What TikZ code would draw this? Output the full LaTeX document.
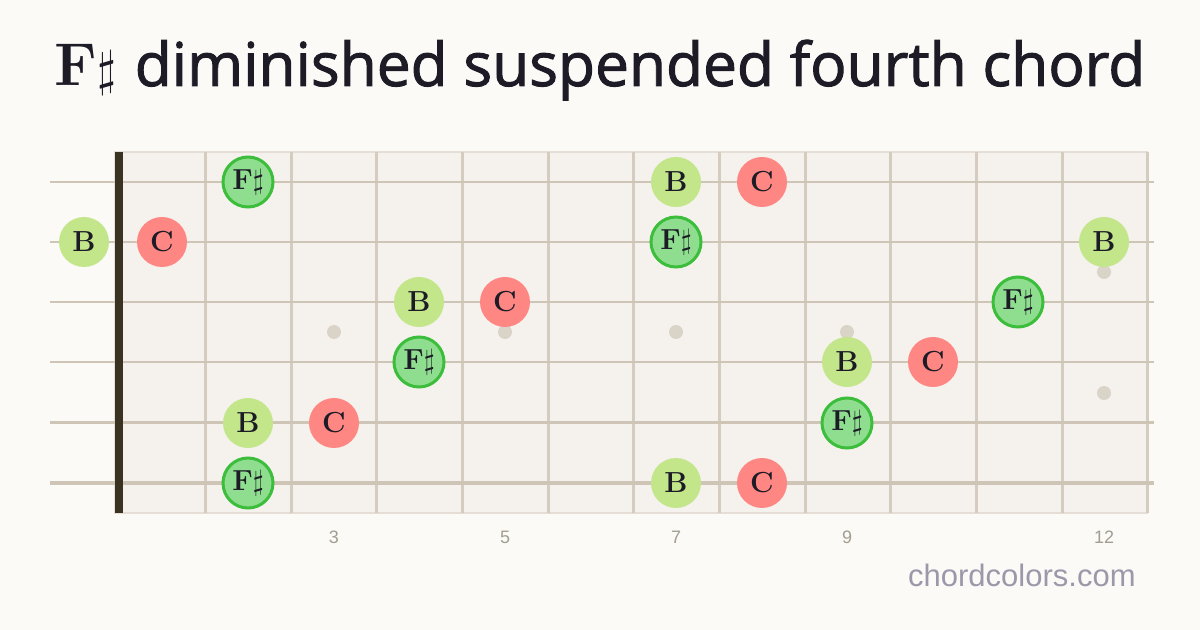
\documentclass[tikz,border=0pt]{standalone}
\usepackage{amsmath,amssymb}
\usepackage{fontspec}
\usepackage{tikz}
\newfontfamily\headfont{Open Sans}[FakeBold=1.6]
\newfontfamily\smallfont{Liberation Sans}
\definecolor{paper}{HTML}{FBFAF7}
\definecolor{board}{HTML}{F5F2EE}
\definecolor{boardedge}{HTML}{E4DED6}
\definecolor{fretcol}{HTML}{D4CCBF}
\definecolor{stringcol}{HTML}{CEC5B7}
\definecolor{nutcol}{HTML}{3A3322}
\definecolor{inlaycol}{HTML}{DAD3C7}
\definecolor{ink}{HTML}{1C1B26}
\definecolor{numcol}{HTML}{A39D8F}
\definecolor{markcol}{HTML}{9B99A9}
\definecolor{rootfill}{HTML}{8FDE8F}
\definecolor{rootline}{HTML}{3CBE3C}
\definecolor{fourthfill}{HTML}{C3E68A}
\definecolor{fifthfill}{HTML}{FF8783}
\tikzset{
  notedot/.style={circle, minimum size=25pt, inner sep=0pt, text=ink,
    font=\fontsize{14.5}{15}\selectfont\bfseries},
  rootdot/.style={notedot, fill=rootfill, draw=rootline, line width=1.5pt},
  fourthdot/.style={notedot, fill=fourthfill},
  fifthdot/.style={notedot, fill=fifthfill},
  fretline/.style={draw=fretcol, line width=1.5pt},
  inlay/.style={circle, fill=inlaycol, minimum size=7pt, inner sep=0pt},
  fretnum/.style={text=numcol, font=\smallfont\fontsize{9}{10}\selectfont}
}

\begin{document}
\begin{tikzpicture}[x=0.5pt, y=-0.5pt]
        \fill[paper](0, 0) rectangle (1200, 630);
        \useasboundingbox(0, 0) rectangle (1200, 630);
        % title
        \node[text=ink, anchor=base](title)at(600, 86){\fontsize{30.2}{34}\selectfont
            \textbf{F}$\sharp$ {\headfont diminished suspended fourth chord}};
        % board
        \filldraw[fill=board, draw=boardedge, line width=0.6pt](115, 152) rectangle (1147, 513);
        \draw[fretline](205, 152) -- (205, 513);
        \draw[fretline](291, 152) -- (291, 513);
        \draw[fretline](376, 152) -- (376, 513);
        \draw[fretline](462, 152) -- (462, 513);
        \draw[fretline](548, 152) -- (548, 513);
        \draw[fretline](633, 152) -- (633, 513);
        \draw[fretline](719, 152) -- (719, 513);
        \draw[fretline](805, 152) -- (805, 513);
        \draw[fretline](890, 152) -- (890, 513);
        \draw[fretline](976, 152) -- (976, 513);
        \draw[fretline](1062, 152) -- (1062, 513);
        \draw[fretline](1147, 152) -- (1147, 513);
        % inlays
        \node[inlay](i3)at(334, 332){};
        \node[inlay](i5)at(505, 332){};
        \node[inlay](i7)at(676, 332){};
        \node[inlay](i9)at(847, 332){};
        \node[inlay](i12a)at(1104, 272){};
        \node[inlay](i12b)at(1104, 393){};
        % strings
        \draw[stringcol, line width=0.8pt](50, 182) -- (1154, 182);
        \draw[stringcol, line width=0.95pt](50, 242) -- (1154, 242);
        \draw[stringcol, line width=1.1pt](50, 302) -- (1154, 302);
        \draw[stringcol, line width=1.3pt](50, 362) -- (1154, 362);
        \draw[stringcol, line width=1.5pt](50, 423) -- (1154, 423);
        \draw[stringcol, line width=1.75pt](50, 483) -- (1154, 483);
        % nut
        \fill[nutcol](115, 152) rectangle (123, 513);
        % notes
        \node[rootdot](f1)at(248, 182){F$\sharp$};
        \node[fourthdot](b1)at(676, 182){B};
        \node[fifthdot](c1)at(762, 182){C};
        \node[fourthdot](b2)at(84, 242){B};
        \node[fifthdot](c2)at(162, 242){C};
        \node[rootdot](f2)at(676, 242){F$\sharp$};
        \node[fourthdot](b2x)at(1104, 242){B};
        \node[fourthdot](b3)at(419, 302){B};
        \node[fifthdot](c3)at(505, 302){C};
        \node[rootdot](f3)at(1018, 302){F$\sharp$};
        \node[rootdot](f4)at(419, 362){F$\sharp$};
        \node[fourthdot](b4)at(847, 362){B};
        \node[fifthdot](c4)at(933, 362){C};
        \node[fourthdot](b5)at(248, 423){B};
        \node[fifthdot](c5)at(334, 423){C};
        \node[rootdot](f5)at(847, 423){F$\sharp$};
        \node[rootdot](f6)at(248, 483){F$\sharp$};
        \node[fourthdot](b6)at(676, 483){B};
        \node[fifthdot](c6)at(762, 483){C};
        % fret numbers
        \node[fretnum](n3)at(334, 537){3};
        \node[fretnum](n5)at(505, 537){5};
        \node[fretnum](n7)at(676, 537){7};
        \node[fretnum](n9)at(847, 537){9};
        \node[fretnum](n12)at(1104, 537){12};
        \node[text=markcol, anchor=base east, inner sep=0pt, font=\smallfont\fontsize{15.5}{16}\selectfont](site)at(1136, 587){chordcolors.com};
    \end{tikzpicture}
\end{document}
